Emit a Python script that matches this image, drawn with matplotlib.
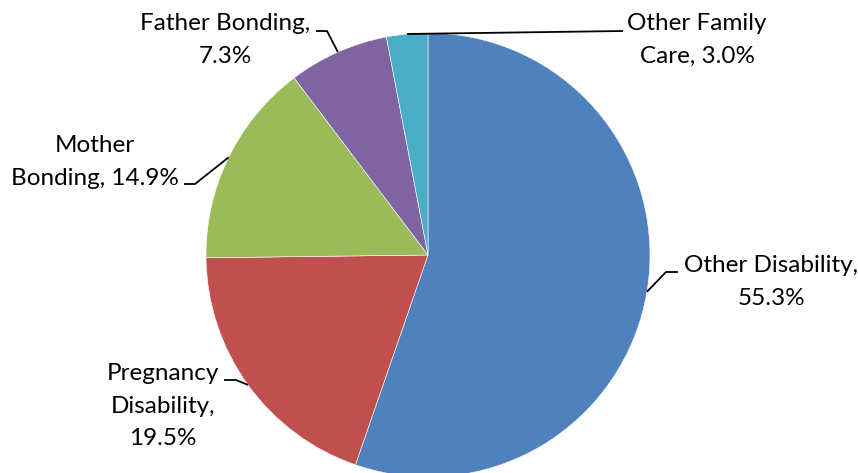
import numpy as np
import matplotlib.pyplot as plt

labels = ["Other Disability", "Pregnancy\nDisability", "Mother\nBonding",
          "Father Bonding", "Other Family\nCare"]
shares = [55.3, 19.5, 14.9, 7.3, 3.0]
colors = ["#4F81BD", "#C0504D", "#9BBB59", "#8064A2", "#4BACC6"]

# label text (line-wrapped like the original)
label_text = ["Other Disability,\n55.3%", "Pregnancy\nDisability,\n19.5%",
              "Mother\nBonding, 14.9%", "Father Bonding,\n7.3%",
              "Other Family\nCare, 3.0%"]

W, H = 858, 473
fig = plt.figure(figsize=(W / 100, H / 100), dpi=100)
ax = fig.add_axes([0, 0, 1, 1])

cx, cy, r = 428, H - 255, 222
wedges, _ = ax.pie(shares, colors=colors, startangle=90, counterclock=False,
                   center=(cx, cy), radius=r, frame=True,
                   wedgeprops=dict(edgecolor="white", linewidth=0.4))
ax.set_xlim(0, W)
ax.set_ylim(0, H)
ax.set_aspect("equal")
ax.axis("off")

# text anchor (center of block), elbow point, in pixel coords from top
layout = [
    dict(text=(771, 282), elbow=(666, 272), hook=(678, 272)),
    dict(text=(163, 406), elbow=(236, 380), hook=(224, 380)),
    dict(text=(95, 162), elbow=(195, 184), hook=(184, 184)),
    dict(text=(225, 40), elbow=(327, 31), hook=(316, 31)),
    dict(text=(697, 40), elbow=(623, 31), hook=(623, 31)),
]

for w, txt, lay in zip(wedges, label_text, layout):
    mid = np.deg2rad((w.theta1 + w.theta2) / 2)
    px, py = cx + r * np.cos(mid), cy + r * np.sin(mid)
    ex, ey = lay["elbow"]
    hx, hy = lay["hook"]
    ax.plot([px, ex, hx], [py, H - ey, H - hy], color="black", lw=1.3,
            solid_capstyle="butt", clip_on=False)
    tx, ty = lay["text"]
    ax.text(tx, H - ty, txt, ha="center", va="center", fontsize=17.5,
            family="Lato", color="black", linespacing=1.65)

fig.savefig("out.png", dpi=100)
